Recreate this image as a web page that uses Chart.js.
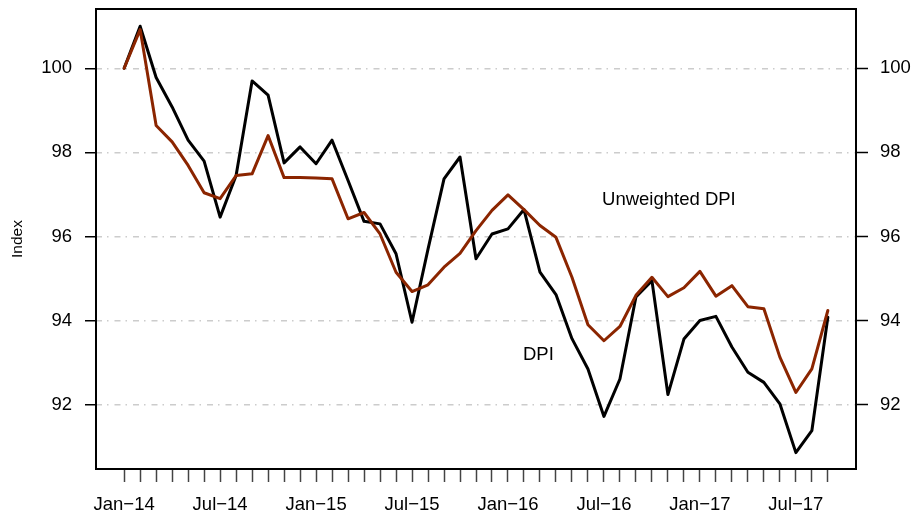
<!DOCTYPE html>
<html>
<head>
<meta charset="utf-8">
<script src="https://cdn.jsdelivr.net/npm/chart.js@4"></script>
<style>
html,body{margin:0;padding:0;background:#fff;}
canvas{display:block;}
</style>
</head>
<body>
<canvas id="c" width="914" height="518"></canvas>
<script>
// monthly index, Jan-14 .. Sep-17
const monthIndex = Array.from({length: 45}, (_, i) => i);
const dpi = [100, 101.0, 99.78, 99.08, 98.29, 97.79, 96.46, 97.45, 99.70, 99.36,
  97.75, 98.13, 97.73, 98.29, 97.33, 96.36, 96.30, 95.59, 93.96, 95.70,
  97.37, 97.89, 95.47, 96.06, 96.18, 96.64, 95.15, 94.62, 93.57, 92.85,
  91.72, 92.61, 94.56, 94.95, 92.24, 93.56, 94.00, 94.10, 93.37, 92.77,
  92.53, 92.02, 90.86, 91.38, 94.08];
const unweightedDpi = [100, 100.92, 98.64, 98.25, 97.69, 97.04, 96.90, 97.45, 97.49, 98.40,
  97.40, 97.40, 97.39, 97.37, 96.42, 96.57, 96.06, 95.15, 94.69, 94.85,
  95.27, 95.60, 96.14, 96.62, 96.99, 96.64, 96.26, 95.98, 95.03, 93.90,
  93.52, 93.86, 94.60, 95.03, 94.57, 94.78, 95.17, 94.58, 94.83, 94.33,
  94.28, 93.13, 92.29, 92.85, 94.24];
const xTickLabels = ['Jan\u221214', 'Jul\u221214', 'Jan\u221215', 'Jul\u221215',
  'Jan\u221216', 'Jul\u221216', 'Jan\u221217', 'Jul\u221217'];
const yTicks = [92, 94, 96, 98, 100];

const labelNotes = [
  {text: 'Unweighted DPI', x: 34.06, y: 96.87},
  {text: 'DPI', x: 25.9, y: 93.19}
];

const FONT = 'Liberation Sans, Arial, Helvetica, sans-serif';

const toPts = arr => arr.map((v, i) => ({x: monthIndex[i], y: v}));

const boxPlugin = {
  id: 'box',
  afterDatasetsDraw(chart) {
    const {ctx, chartArea: a, scales} = chart;
    ctx.save();
    ctx.font = '18.5px ' + FONT;
    ctx.fillStyle = '#000';
    ctx.textAlign = 'center';
    ctx.textBaseline = 'middle';
    labelNotes.forEach(n => {
      ctx.fillText(n.text, scales.x.getPixelForValue(n.x), scales.y.getPixelForValue(n.y));
    });
    ctx.strokeStyle = '#000';
    ctx.lineWidth = 2;
    ctx.strokeRect(a.left, a.top, a.right - a.left, a.bottom - a.top);
    ctx.restore();
  }
};

const yMin = 90.47, yMax = 101.41;

const fitY = w => s => { s.width = w; s.paddingTop = 0; s.paddingBottom = 0; };

new Chart(document.getElementById('c'), {
  type: 'line',
  data: {
    datasets: [
      {
        label: 'Unweighted DPI',
        data: toPts(unweightedDpi),
        borderColor: '#8B2500',
        borderWidth: 3,
        pointRadius: 0,
        tension: 0,
        borderJoinStyle: 'round',
        borderCapStyle: 'round',
        fill: false
      },
      {
        label: 'DPI',
        data: toPts(dpi),
        borderColor: '#000000',
        borderWidth: 3,
        pointRadius: 0,
        tension: 0,
        borderJoinStyle: 'round',
        borderCapStyle: 'round',
        fill: false
      }
    ]
  },
  options: {
    responsive: false,
    animation: false,
    devicePixelRatio: 1,
    layout: {padding: {top: 9, left: 0, right: 0, bottom: 0}},
    plugins: {legend: {display: false}, tooltip: {enabled: false}},
    scales: {
      x: {
        type: 'linear',
        min: -1.76,
        max: 45.76,
        afterBuildTicks: s => { s.ticks = monthIndex.map(v => ({value: v})); },
        afterFit: s => { s.height = 49; s.paddingLeft = 0; s.paddingRight = 0; },
        border: {display: false},
        grid: {
          drawOnChartArea: false,
          drawTicks: true,
          tickLength: 13,
          tickColor: '#444',
          tickWidth: 1.5
        },
        ticks: {
          autoSkip: false,
          maxRotation: 0,
          padding: 12,
          color: '#000',
          font: {family: FONT, size: 18.5},
          callback: v => (v % 6 === 0 ? xTickLabels[v / 6] : '')
        }
      },
      y: {
        type: 'linear',
        position: 'left',
        min: yMin,
        max: yMax,
        afterBuildTicks: s => { s.ticks = yTicks.map(v => ({value: v})); },
        afterFit: fitY(96),
        border: {display: false, dash: [6, 5, 1.5, 6]},
        grid: {
          drawOnChartArea: true,
          color: '#cccccc',
          lineWidth: 1.5,
          drawTicks: true,
          tickLength: 11,
          tickColor: '#000',
          tickWidth: 1.5,
          tickBorderDash: []
        },
        ticks: {
          padding: 13,
          color: '#000',
          font: {family: FONT, size: 18.5}
        },
        title: {
          display: true,
          text: 'Index',
          color: '#000',
          font: {family: FONT, size: 15.5},
          padding: {top: 8, bottom: 0}
        }
      },
      y2: {
        type: 'linear',
        position: 'right',
        min: yMin,
        max: yMax,
        afterBuildTicks: s => { s.ticks = yTicks.map(v => ({value: v})); },
        afterFit: fitY(58),
        border: {display: false},
        grid: {
          drawOnChartArea: false,
          drawTicks: true,
          tickLength: 12,
          tickColor: '#000',
          tickWidth: 1.5
        },
        ticks: {
          padding: 12,
          color: '#000',
          font: {family: FONT, size: 18.5}
        }
      }
    }
  },
  plugins: [boxPlugin]
});
</script>
</body>
</html>
